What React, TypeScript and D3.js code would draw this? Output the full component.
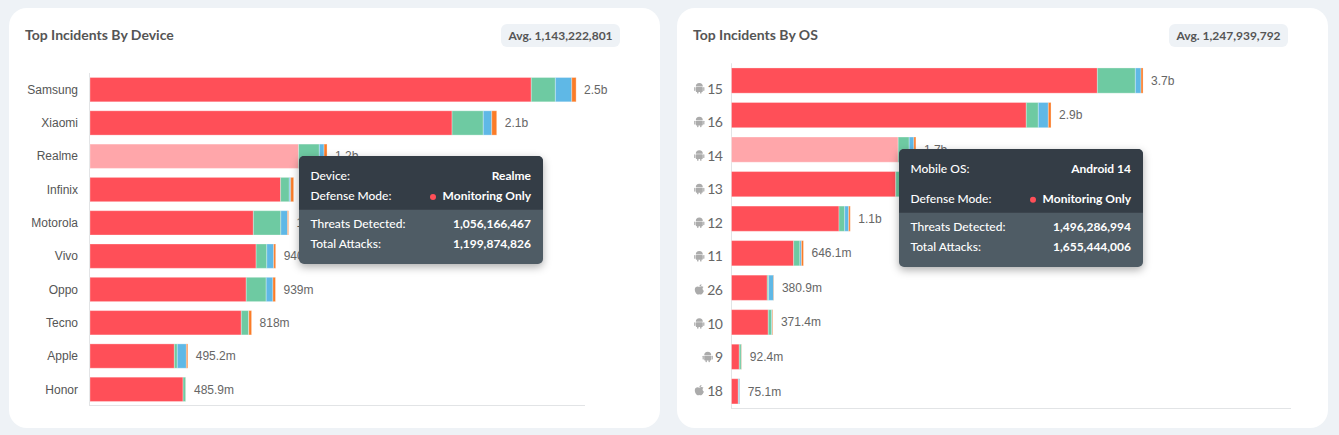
import React from "react";
import * as d3 from "d3";

// ---- Data (values in millions) ----
const segmentKeys = ["monitoring", "green", "blue", "orange"];
const segmentColors = ["#ff4f58", "#6ecaa2", "#5fb8e6", "#fb7c28"];
const highlightColor = "#ffa6aa";

const deviceNames = ["Samsung", "Xiaomi", "Realme", "Infinix", "Motorola", "Vivo", "Oppo", "Tecno", "Apple", "Honor"];
const deviceMonitoring = [2234, 1833, 1056, 965, 827, 841, 791, 766, 427, 471];
const deviceGreen = [122, 158, 105, 44, 139, 54, 101, 37, 15, 14];
const deviceBlue = [83, 43, 24, 7, 34, 35, 34, 1, 46, 0.5];
const deviceOrange = [22, 25, 15, 15, 5, 10, 13, 14, 7, 0.4];
// Infinix's label lies wholly behind the tooltip in the reference, so it is not drawn.
const deviceLabels = ["2.5b", "2.1b", "1.2b", "", "1b", "940m", "939m", "818m", "495.2m", "485.9m"];

const osNames = ["15", "16", "14", "13", "12", "11", "26", "10", "9", "18"];
const osPlatforms = ["a", "a", "a", "a", "a", "a", "i", "a", "a", "i"];
const osMonitoring = [3284, 2646, 1496, 1474, 965, 558, 321, 330, 70, 61];
const osGreen = [341, 108, 99, 90, 51, 56, 12, 31, 18, 2];
const osBlue = [51, 90, 42, 30, 36, 14, 45, 5, 2, 11];
const osOrange = [18, 24, 18, 12, 14, 18, 2.9, 5.4, 2.4, 1.1];
// Android 13's label lies wholly behind the tooltip in the reference, so it is not drawn.
const osLabels = ["3.7b", "2.9b", "1.7b", "", "1.1b", "646.1m", "380.9m", "371.4m", "92.4m", "75.1m"];

const deviceTooltipRows = [["Device:", "Realme"], ["Defense Mode:", "Monitoring Only"], ["Threats Detected:", "1,056,166,467"], ["Total Attacks:", "1,199,874,826"]];
const osTooltipRows = [["Mobile OS:", "Android 14"], ["Defense Mode:", "Monitoring Only"], ["Threats Detected:", "1,496,286,994"], ["Total Attacks:", "1,655,444,006"]];

const LATO = "Lato, sans-serif";
const HELV = "'Liberation Sans', Arial, sans-serif";

function stackRows(a: number[], b: number[], c: number[], d: number[]) {
  const rows = a.map((v, i) => ({ monitoring: v, green: b[i], blue: c[i], orange: d[i] }));
  return d3.stack<any>().keys(segmentKeys)(rows);
}

function Android({ x, y }: { x: number; y: number }) {
  return (
    <g transform={`translate(${x},${y})`} fill="#ababab">
      <path d="M-3.5,-1.5 a3.5,3.5 0 0 1 7,0 z" />
      <rect x={-3.5} y={-1} width={7} height={4.8} rx={0.7} />
      <rect x={-5.1} y={-1} width={1.2} height={3.8} rx={0.6} />
      <rect x={3.9} y={-1} width={1.2} height={3.8} rx={0.6} />
      <rect x={-2.2} y={3.2} width={1.4} height={2.3} rx={0.6} />
      <rect x={0.8} y={3.2} width={1.4} height={2.3} rx={0.6} />
    </g>
  );
}

function AppleIcon({ x, y }: { x: number; y: number }) {
  return (
    <g transform={`translate(${x},${y})`} fill="#ababab">
      <path d="M0,-2.5 C-1,-3.3 -4.5,-3.5 -4.5,0 C-4.5,2.8 -2.6,5 -1.4,5 C-.8,5 -.5,4.6 0,4.6 C.5,4.6 .8,5 1.4,5 C2.6,5 4.5,2.6 4.5,1.2 C3,.5 2.8,-1.8 4.2,-2.5 C3,-3.6 1,-3.3 0,-2.5 Z" />
      <path d="M0,-3 C0,-4.2 1,-5.2 2.2,-5.3 C2.2,-4 1.2,-3 0,-3 Z" />
    </g>
  );
}

function Tooltip({ x, y, w, h, split, rows, rowY, leftPad, rightPad }: any) {
  return (
    <g>
      <rect x={x} y={y} width={w} height={h} rx={5} fill="#505c65" filter="url(#shadow)" />
      <path d={`M${x},${split} V${y + 5} a5,5 0 0 1 5,-5 H${x + w - 5} a5,5 0 0 1 5,5 V${split} Z`} fill="#343d46" />
      {rows.map((r: string[], i: number) => (
        <g key={i} fontFamily={LATO} fontSize={12} fill="#fff">
          <text x={x + leftPad} y={rowY[i]} dy="0.35em" fontWeight={500}>{r[0]}</text>
          <text x={x + w - rightPad} y={rowY[i]} dy="0.35em" textAnchor="end" fontWeight={700}>{r[1]}</text>
          {r[1] === "Monitoring Only" && <circle cx={x + w - 110} cy={rowY[i] + 1} r={3} fill="#ff4f58" />}
        </g>
      ))}
    </g>
  );
}

function Bars({ series, x, y, labels, highlight }: any) {
  return (
    <g>
      {series.map((s: any, si: number) =>
        s.map((d: any, i: number) => (
          <rect
            key={i}
            x={x(d[0])}
            y={y(i)}
            width={Math.max(0, x(d[1]) - x(d[0]))}
            height={y.bandwidth()}
            fill={si === 0 && i === highlight ? highlightColor : segmentColors[si]}
            stroke="#fff"
            strokeOpacity={0.3}
            strokeWidth={1}
          />
        ))
      )}
      {labels.map((l: string, i: number) =>
        l ? (
          <text key={l + i} x={x(series[3][i][1]) + 8} y={y(i)! + y.bandwidth() / 2} dy="0.35em" fontFamily={HELV} fontSize={12} fill="#666">{l}</text>
        ) : null
      )}
    </g>
  );
}

export default function App() {
  const devSeries = stackRows(deviceMonitoring, deviceGreen, deviceBlue, deviceOrange);
  const devX = d3.scaleLinear().domain([0, 2506]).range([90, 585]);
  const devY = d3.scaleBand<number>().domain(d3.range(10)).range([73, 406]).paddingInner(0.27).paddingOuter(0.135);

  const osSeries = stackRows(osMonitoring, osGreen, osBlue, osOrange);
  const osX = d3.scaleLinear().domain([0, 5022]).range([731.5, 1291]);
  const osY = d3.scaleBand<number>().domain(d3.range(10)).range([63.3, 408.6]).paddingInner(0.27).paddingOuter(0.135);
  const osLabelY = d3.scalePoint<number>().domain(d3.range(10)).range([88.6, 390.8]);

  return (
    <svg width={1339} height={435} style={{ position: "absolute", left: 0, top: 0, display: "block" }}>
      <defs>
        <filter id="shadow" x="-10%" y="-10%" width="120%" height="130%">
          <feDropShadow dx={0} dy={3} stdDeviation={4} floodColor="#000" floodOpacity={0.32} />
        </filter>
      </defs>
      <rect width={1339} height={435} fill="#eef2f6" />
      <rect x={9} y={8} width={651} height={420} rx={18} fill="#fff" />
      <rect x={677} y={8} width={651} height={420} rx={18} fill="#fff" />

      {/* Left panel */}
      <text x={25} y={40} fontFamily={LATO} fontSize={14} fontWeight={700} fill="#555">Top Incidents By Device</text>
      <rect x={501} y={24} width={119} height={23} rx={6} fill="#eef2f6" />
      <text x={560.5} y={35.5} dy="0.35em" textAnchor="middle" fontFamily={LATO} fontSize={12} fontWeight={700} fill="#555">Avg. 1,143,222,801</text>
      <line x1={89.5} x2={89.5} y1={73} y2={405.5} stroke="#e2e4e6" />
      <line x1={89} x2={585} y1={405.5} y2={405.5} stroke="#e2e4e6" />
      {deviceNames.map((n, i) => (
        <text key={n} x={78} y={devY(i)! + devY.bandwidth() / 2} dy="0.35em" textAnchor="end" fontFamily={HELV} fontSize={12} fill="#555">{n}</text>
      ))}
      <Bars series={devSeries} x={devX} y={devY} labels={deviceLabels} highlight={2} />
      <Tooltip x={299} y={156} w={244} h={108} split={209.7} rows={deviceTooltipRows} rowY={[175.7, 196, 223.7, 243.7]} leftPad={11.5} rightPad={12} />

      {/* Right panel */}
      <text x={693} y={40} fontFamily={LATO} fontSize={14} fontWeight={700} fill="#555">Top Incidents By OS</text>
      <rect x={1169} y={24} width={119} height={23} rx={6} fill="#eef2f6" />
      <text x={1228.5} y={35.5} dy="0.35em" textAnchor="middle" fontFamily={LATO} fontSize={12} fontWeight={700} fill="#555">Avg. 1,247,939,792</text>
      <line x1={731.5} x2={731.5} y1={63.3} y2={408.5} stroke="#e2e4e6" />
      <line x1={731} x2={1291} y1={408.5} y2={408.5} stroke="#e2e4e6" />
      {osNames.map((n, i) => {
        const cy = osLabelY(i)!;
        const w = n.length === 1 ? 8.4 : 0;
        const ix = 699.3 + w;
        return (
          <g key={n}>
            {osPlatforms[i] === "a" ? <Android x={ix} y={cy - 0.5} /> : <AppleIcon x={ix} y={cy - 0.5} />}
            <text x={722.5} y={cy} dy="0.35em" textAnchor="end" fontFamily={LATO} fontSize={14} letterSpacing={-0.5} fill="#666">{n}</text>
          </g>
        );
      })}
      <Bars series={osSeries} x={osX} y={osY} labels={osLabels} highlight={2} />
      <Tooltip x={899} y={149} w={244} h={118} split={212.7} rows={osTooltipRows} rowY={[168.7, 198.7, 226.7, 246.7]} leftPad={11.5} rightPad={12} />
    </svg>
  );
}
